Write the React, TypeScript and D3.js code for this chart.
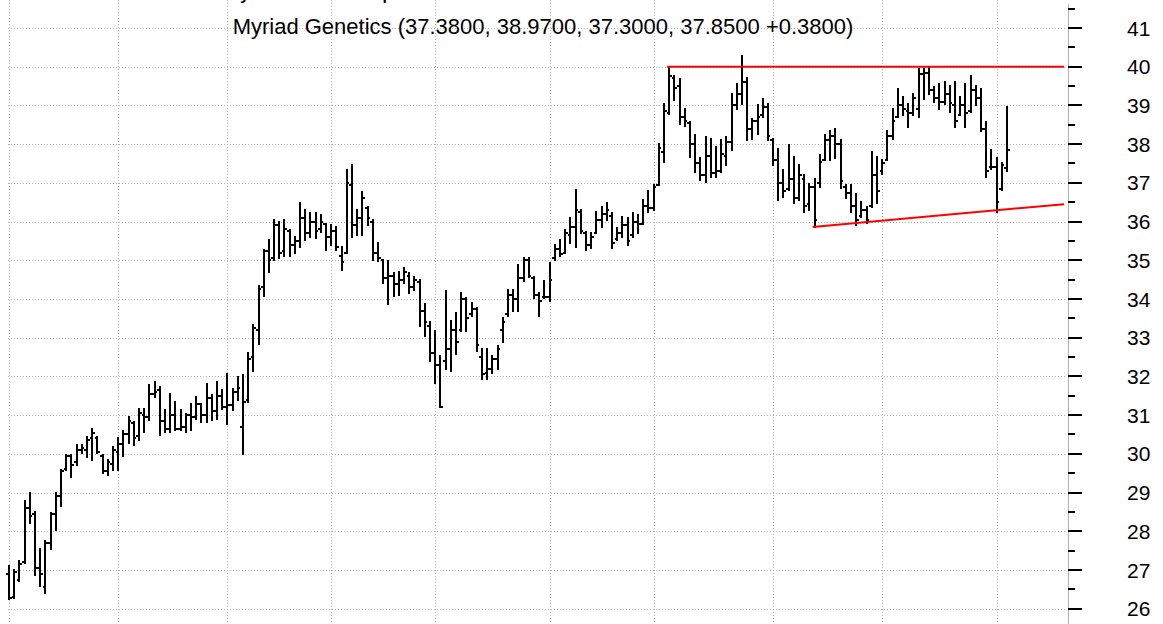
import React from "react";
import * as d3 from "d3";

const W = 1163;
const H = 624;

const opens = [26.9,26.3,26.75,27.2,28.6,28.45,27.05,26.55,27.7,28.45,28.9,29.6,29.95,29.8,30.1,30.1,30.4,30.4,29.95,29.55,29.75,30.05,30.25,30.5,30.8,30.45,31.0,30.95,31.55,31.65,30.85,30.65,31.0,30.65,30.7,31.0,30.95,31.3,31.0,31.45,31.1,31.5,31.2,31.25,31.6,30.7,31.4,32.5,33.2,34.3,35.25,35.05,35.9,35.25,35.75,35.4,35.5,36.1,35.7,36.0,35.8,35.95,35.6,35.75,35.1,35.2,36.95,35.9,36.1,36.35,36.0,35.2,35.0,34.55,34.6,34.4,34.5,34.6,34.3,34.45,33.7,33.3,32.6,32.3,32.4,32.7,33.2,33.2,34.0,33.6,33.75,32.5,32.1,32.2,32.45,33.2,33.6,34.1,34.0,34.55,35.0,34.55,34.1,34.05,34.05,35.05,35.3,35.2,35.65,35.85,36.25,35.7,35.4,35.7,36.05,36.2,36.15,35.55,35.7,35.9,35.65,36.0,35.95,36.4,36.35,36.95,37.8,38.8,39.7,39.5,38.7,38.55,38.0,37.5,37.2,37.7,37.25,37.3,37.7,38.05,39.0,39.3,39.6,38.4,38.6,38.75,38.95,38.1,37.6,37.0,36.85,37.1,36.6,37.1,36.45,36.9,37.0,37.6,38.1,38.2,38.0,36.9,36.75,36.4,36.15,36.3,36.4,37.2,37.3,37.6,38.2,38.7,39.0,38.85,38.8,38.9,39.8,39.85,39.4,39.2,39.1,39.3,39.0,38.75,39.0,38.85,39.4,39.2,38.4,37.4,37.4,36.85,37.38];
const highs = [27.1,27.01,27.23,28.77,28.98,28.51,27.53,27.74,28.47,28.98,29.58,29.97,29.97,30.23,30.23,30.44,30.65,30.44,29.97,29.84,30.18,30.4,30.6,30.95,30.83,31.17,31.17,31.77,31.85,31.73,31.13,31.55,31.34,31.13,31.04,31.3,31.47,31.3,31.81,31.51,31.85,31.64,32.07,31.68,31.98,32.03,32.6,33.34,34.33,35.27,35.53,36.04,36.0,36.04,35.78,35.61,36.47,36.3,36.21,36.21,36.17,35.95,35.91,35.87,35.35,37.33,37.45,36.3,36.77,36.38,36.04,35.44,35.01,34.97,34.67,34.71,34.8,34.67,34.58,34.5,33.86,33.4,33.17,32.53,34.2,33.43,33.64,34.16,34.03,33.9,33.77,32.7,32.7,32.53,32.78,33.51,34.24,34.24,34.88,35.05,35.05,34.58,34.16,34.46,34.93,35.4,35.53,35.78,36.08,36.81,36.3,35.74,35.7,36.25,36.38,36.47,36.21,35.83,36.13,36.08,36.21,36.17,36.55,36.8,36.95,38.0,39.04,40.0,39.77,39.68,38.91,38.57,38.23,37.63,38.18,38.14,37.93,38.1,38.18,39.3,39.55,40.28,39.72,38.65,39.0,39.17,39.04,38.14,37.88,37.33,37.97,37.67,37.45,37.2,36.98,37.11,37.71,38.23,38.35,38.4,38.1,36.94,36.94,36.72,36.51,36.38,37.8,37.67,37.58,38.35,38.91,39.43,39.21,39.04,39.3,39.94,39.94,39.98,39.47,39.55,39.6,39.51,39.6,39.21,39.55,39.77,39.5,39.43,38.57,37.84,37.63,37.5,38.97];
const lows = [26.26,26.28,26.71,27.18,28.21,26.88,26.58,26.41,27.53,28.04,28.64,29.58,29.41,29.71,30.01,29.93,29.84,30.01,29.5,29.45,29.58,29.58,29.95,30.27,30.23,30.35,30.57,30.87,31.47,30.48,30.57,30.57,30.61,30.61,30.57,30.61,30.91,30.83,30.83,30.87,30.91,31.17,30.78,31.13,31.38,30.0,31.34,32.14,32.83,34.07,34.71,35.01,35.05,35.1,35.1,35.18,35.35,35.53,35.6,35.57,35.74,35.27,35.4,35.27,34.75,35.18,35.61,35.65,35.65,35.91,35.01,34.97,34.41,33.86,34.07,34.11,34.41,34.16,34.24,33.3,33.04,32.4,31.84,31.2,32.18,32.14,32.57,33.17,33.17,33.56,32.66,31.93,31.93,32.1,32.18,32.9,33.56,33.68,33.68,34.46,34.58,34.03,33.56,34.03,33.94,35.0,35.1,35.18,35.44,35.35,35.7,35.27,35.31,35.7,35.87,36.04,35.31,35.53,35.61,35.4,35.61,35.7,35.95,36.25,36.3,36.95,37.54,38.78,39.13,38.53,38.48,37.67,37.28,37.07,37.03,37.16,37.16,37.28,37.45,37.84,38.91,39.04,38.1,38.14,38.27,38.7,38.1,37.45,36.56,36.64,36.81,36.47,36.56,36.26,36.3,35.86,36.9,37.58,37.58,37.63,36.86,36.6,36.26,35.91,36.13,35.96,36.38,36.47,37.24,37.58,38.14,38.7,38.74,38.44,38.74,38.7,39.17,39.3,39.08,38.91,39.04,38.83,38.44,38.74,38.44,38.83,39.0,38.35,37.16,37.37,36.26,36.81,37.3];
const closes = [26.28,26.95,27.15,28.6,28.4,27.05,26.9,27.7,28.45,28.9,29.55,29.95,29.7,30.1,30.15,30.35,30.55,30.05,29.55,29.8,30.1,30.25,30.5,30.85,30.4,31.05,30.95,31.55,31.6,30.85,30.65,31.0,30.65,30.7,31.0,30.95,31.3,31.0,31.45,31.1,31.5,31.2,31.25,31.6,31.7,31.35,32.45,33.25,34.25,35.25,35.0,35.9,35.2,35.8,35.4,35.5,36.1,35.7,36.0,35.75,36.0,35.6,35.75,35.35,34.95,37.0,35.9,36.1,36.6,36.1,35.2,35.05,34.55,34.6,34.4,34.5,34.7,34.3,34.5,33.7,33.4,32.6,32.3,31.22,32.7,33.2,32.9,34.0,33.5,33.75,32.8,32.05,32.2,32.45,32.7,33.4,34.1,34.0,34.55,35.0,34.6,34.1,33.95,34.05,34.5,35.3,35.15,35.7,35.85,36.3,35.75,35.4,35.6,36.05,36.2,36.3,35.45,35.7,35.9,35.5,36.0,35.95,36.4,36.35,36.9,37.9,38.85,39.75,39.45,38.7,38.6,38.0,37.5,37.2,37.7,37.25,37.3,37.75,38.05,39.0,39.3,39.6,38.4,38.6,38.7,38.95,38.2,37.6,37.0,36.8,37.1,36.6,37.2,36.4,36.9,36.05,37.55,38.1,38.2,38.0,37.05,36.75,36.4,36.05,36.3,36.05,37.2,36.8,37.5,38.2,38.6,39.0,38.9,38.8,39.2,39.8,39.85,39.4,39.2,39.1,39.3,39.05,38.6,39.0,38.8,39.4,39.2,38.4,37.3,37.4,36.5,37.47,37.85];

// first trading day of each month (bar index) for vertical grid lines
const monthStartIdx = [0, 21, 42, 62, 82, 104, 124, 147, 168, 190];
const yTicks = [26, 27, 28, 29, 30, 31, 32, 33, 34, 35, 36, 37, 38, 39, 40, 41];
const yMinorTicks = [25.5, 26.5, 27.5, 28.5, 29.5, 30.5, 31.5, 32.5, 33.5, 34.5, 35.5, 36.5, 37.5, 38.5, 39.5, 40.5, 41.5];

// trend lines: [startIdx, startVal, refIdx, refVal]
const resistance = [127, 40.0, 186, 40.0];
const support = [155, 35.86, 190, 36.29];

const titleText = "Myriad Genetics (37.3800, 38.9700, 37.3000, 37.8500 +0.3800)";
const headerText = "Myriad Genetics Corp";

export default function App() {
  const n = closes.length;
  const x = d3.scaleLinear().domain([0, n - 1]).range([9, 1007]);
  const y = d3.scaleLinear().domain([26, 41]).range([608.7, 28]);
  const axisX = 1068;
  const plotLeft = 8;
  const plotRight = 1064;
  const idxAt = (px: number) => x.invert(px);

  const trend = (t: number[]) => {
    const [i0, v0, i1, v1] = t;
    const slope = (v1 - v0) / (i1 - i0);
    const iEnd = idxAt(plotRight);
    return { x1: x(i0) - 2, y1: y(v0), x2: plotRight, y2: y(v0 + slope * (iEnd - i0)) };
  };
  const r = trend(resistance);
  const s = trend(support);
  const half = (x(1) - x(0)) / 2;

  return (
    <div style={{ position: "absolute", left: 0, top: 0, width: W, height: H, overflow: "hidden", background: "#fff" }}>
      <svg width={W} height={H} style={{ display: "block" }} fontFamily="'Liberation Sans', Arial, sans-serif">
        <rect x={0} y={0} width={W} height={H} fill="#fff" />
        {/* horizontal grid */}
        {yTicks.map((t) => (
          <line key={"hg" + t} x1={plotLeft} x2={axisX - 2} y1={Math.round(y(t)) + 0.5} y2={Math.round(y(t)) + 0.5}
            stroke="#b4b4b4" strokeWidth={1} strokeDasharray="1,2" />
        ))}
        {/* vertical grid */}
        {monthStartIdx.map((m) => (
          <line key={"vg" + m} x1={Math.round(x(m)) + 0.5} x2={Math.round(x(m)) + 0.5} y1={0} y2={H}
            stroke="#b4b4b4" strokeWidth={1} strokeDasharray="1,2" />
        ))}
        {/* header (clipped at top edge, only descenders show) */}
        <text x={227} y={-0.5} fontSize={16} fontWeight="bold" fill="#000">{headerText}</text>
        <text x={543} y={34} fontSize={22} textAnchor="middle" fill="#000">{titleText}</text>
        {/* OHLC bars */}
        <g stroke="#000" strokeWidth={2} shapeRendering="crispEdges">
          {closes.map((c, i) => {
            const cx = x(i);
            return (
              <g key={"b" + i}>
                <line x1={cx} x2={cx} y1={y(highs[i]) - 1} y2={y(lows[i]) + 1} />
                <line x1={cx - half} x2={cx} y1={y(opens[i])} y2={y(opens[i])} />
                <line x1={cx} x2={cx + half} y1={y(c)} y2={y(c)} />
              </g>
            );
          })}
        </g>
        {/* trend lines */}
        <line x1={r.x1} y1={r.y1} x2={r.x2} y2={r.y2} stroke="#ff0000" strokeWidth={2} />
        <line x1={s.x1} y1={s.y1} x2={s.x2} y2={s.y2} stroke="#ff0000" strokeWidth={2} />
        {/* y axis */}
        <line x1={axisX + 0.5} x2={axisX + 0.5} y1={4} y2={H} stroke="#b0b0b0" strokeWidth={1} />
        <g stroke="#000" strokeWidth={2} shapeRendering="crispEdges">
          {yTicks.map((t) => (
            <line key={"mt" + t} x1={axisX} x2={axisX + 14} y1={y(t)} y2={y(t)} />
          ))}
          {yMinorTicks.map((t) => (
            <line key={"nt" + t} x1={axisX} x2={axisX + 7} y1={y(t)} y2={y(t)} />
          ))}
        </g>
        {yTicks.map((t) => (
          <text key={"tl" + t} x={1127} y={y(t)} dy="0.36em" fontSize={21} fill="#000">{t}</text>
        ))}
      </svg>
    </div>
  );
}
